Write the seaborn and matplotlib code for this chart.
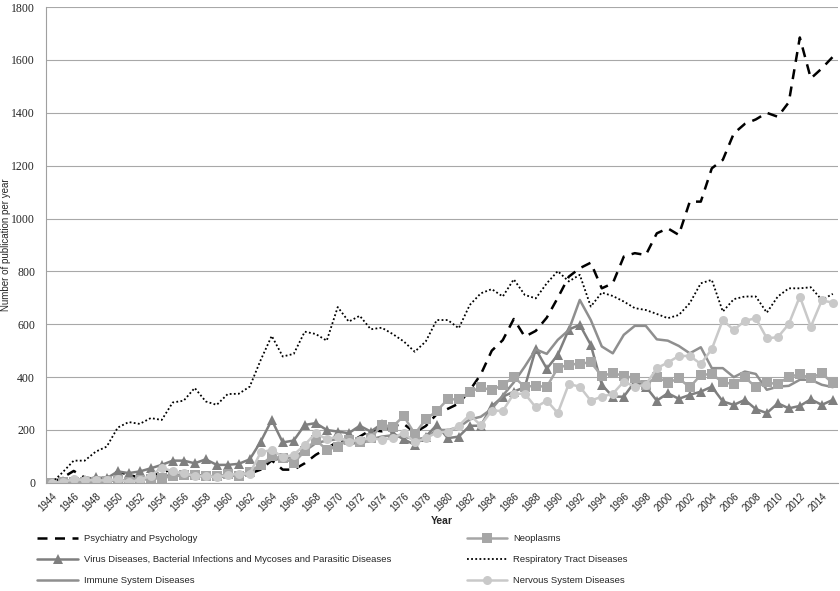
import matplotlib
matplotlib.use('Agg')
import matplotlib.pyplot as plt
import seaborn as sns
import numpy as np
import pandas as pd

# years 1944-2015
years = list(range(1944, 2016))

psychiatry = [0, 20, 45, 20, 15, 20, 43, 30, 20, 25, 40, 50, 30, 30, 25, 25, 25, 30,
              35, 50, 85, 50, 50, 74, 106, 130, 156, 150, 175, 200, 195, 215, 223, 190,
              215, 260, 280, 300, 350, 410, 500, 540, 620, 553, 575, 625, 700, 780, 812, 833,
              736, 755, 856, 869, 862, 944, 963, 938, 1064, 1064, 1190, 1222, 1322, 1358,
              1375, 1400, 1385, 1440, 1685, 1530, 1568, 1612]
neoplasms = [0, 2, 2, 3, 3, 6, 12, 3, 10, 15, 18, 25, 28, 28, 26, 25, 32, 25,
             40, 68, 100, 93, 76, 120, 163, 125, 137, 163, 153, 169, 219, 213, 253, 185,
             240, 272, 316, 316, 343, 362, 350, 371, 400, 364, 367, 363, 435, 447, 451, 456,
             405, 415, 405, 396, 371, 402, 379, 395, 362, 408, 412, 380, 374, 400,
             362, 380, 373, 402, 410, 397, 415, 376]
virus = [0, 6, 12, 12, 21, 17, 43, 37, 43, 55, 68, 84, 84, 74, 89, 68, 68, 72,
         89, 156, 238, 153, 160, 219, 226, 200, 194, 188, 216, 194, 223, 188, 165, 144,
         175, 219, 169, 175, 216, 216, 290, 326, 345, 362, 506, 432, 484, 580, 598, 522,
         371, 326, 326, 383, 364, 311, 339, 318, 333, 345, 364, 308, 295, 314,
         279, 264, 301, 282, 291, 316, 295, 314]
respiratory = [0, 40, 84, 84, 118, 137, 209, 230, 223, 245, 238, 304, 311, 359, 308, 295, 336, 337,
               364, 465, 556, 478, 488, 572, 563, 538, 665, 610, 632, 581, 587, 563, 535, 496,
               535, 616, 616, 585, 673, 717, 733, 705, 770, 711, 698, 755, 801, 762, 787, 667,
               720, 707, 686, 661, 654, 639, 623, 635, 680, 755, 768, 648, 695, 705,
               705, 644, 705, 736, 736, 740, 692, 715]
immune = [0, 2, 5, 5, 5, 8, 10, 10, 15, 20, 25, 30, 30, 25, 25, 25, 25, 28,
          40, 70, 88, 90, 100, 120, 150, 160, 165, 155, 145, 165, 175, 180, 175, 165,
          170, 200, 200, 210, 240, 250, 280, 330, 380, 440, 505, 488, 541, 578, 692, 616,
          516, 490, 560, 594, 594, 543, 538, 518, 490, 513, 434, 434, 400, 421,
          412, 352, 364, 367, 390, 390, 371, 362]
nervous = [0, 3, 14, 10, 10, 9, 14, 3, 12, 26, 58, 43, 37, 26, 26, 21, 30, 34,
           35, 115, 125, 97, 106, 144, 188, 165, 175, 156, 163, 169, 163, 169, 190, 153,
           169, 190, 194, 216, 257, 218, 273, 272, 337, 337, 286, 311, 264, 374, 364, 311,
           326, 337, 383, 364, 371, 434, 455, 480, 480, 450, 506, 616, 578, 613,
           623, 547, 551, 601, 705, 591, 690, 682]

sns.set_style('white')
plt.rcParams['font.family'] = ['Liberation Sans', 'DejaVu Sans']

fig = plt.figure(figsize=(8.4, 5.91), dpi=100)
ax = fig.add_axes([0.055, 0.183, 0.943, 0.805])

# series: (label, values, color, marker, linestyle, linewidth)
series = [
    ('Psychiatry and Psychology', psychiatry, 'black', None, (0, (4, 3)), 1.8),
    ('Virus Diseases, Bacterial Infections and Mycoses and Parasitic Diseases', virus, '#7f7f7f', '^', '-', 1.8),
    ('Immune System Diseases', immune, '#8f8f8f', None, '-', 1.8),
    ('Neoplasms', neoplasms, '#a6a6a6', 's', '-', 1.8),
    ('Respiratory Tract Diseases', respiratory, 'black', None, (0, (1, 1.3)), 1.3),
    ('Nervous System Diseases', nervous, '#c9c9c9', 'o', '-', 1.8),
]

handles = []
for label, vals, color, marker, ls, lw in series:
    df = pd.DataFrame({'year': years, 'value': vals})
    sns.lineplot(data=df, x='year', y='value', ax=ax, color=color, marker=marker,
                 markersize=6.5, markeredgewidth=0, linestyle=ls, linewidth=lw,
                 label=label, legend=False)
    handles.append(ax.lines[-1])

ax.set_xlim(1943.5, 2015.5)
ax.set_ylim(0, 1800)
ax.set_yticks(range(0, 1801, 200))
ax.yaxis.grid(True, color='#a8a8a8', linewidth=0.8)
ax.set_axisbelow(True)
for s in ['top', 'right']:
    ax.spines[s].set_visible(False)
ax.spines['left'].set_color('#a0a0a0')
ax.spines['bottom'].set_color('#a0a0a0')

ax.set_xticks(years[::2])
ax.set_xticklabels([str(y) for y in years[::2]], rotation=45, ha='right',
                   rotation_mode='anchor', fontsize=7)
ax.set_xticks(np.arange(1943.5, 2016, 1), minor=True)
ax.tick_params(axis='x', which='major', length=0, pad=6)
ax.tick_params(axis='x', which='minor', length=4, color='#a0a0a0', direction='out')
ax.tick_params(axis='y', length=0, pad=8)
for t in ax.get_yticklabels():
    t.set_fontfamily('Liberation Serif')
    t.set_fontsize(8.5)

ax.set_xlabel('Year', fontsize=7.5, fontweight='bold', labelpad=2)
ax.set_ylabel('Number of publication per year', fontsize=7)
ax.yaxis.set_label_coords(-0.044, 0.5)

leg_kw = dict(frameon=False, fontsize=6.8, handlelength=4.3, labelspacing=1.3,
              handletextpad=0.6, borderaxespad=0, loc='upper left')
fig.legend(handles=handles[:3], labels=[s[0] for s in series[:3]],
           bbox_to_anchor=(0.04, 0.103), **leg_kw)
fig.legend(handles=handles[3:], labels=[s[0] for s in series[3:]],
           bbox_to_anchor=(0.551, 0.103), **leg_kw)

fig.savefig('out.png', dpi=100)
